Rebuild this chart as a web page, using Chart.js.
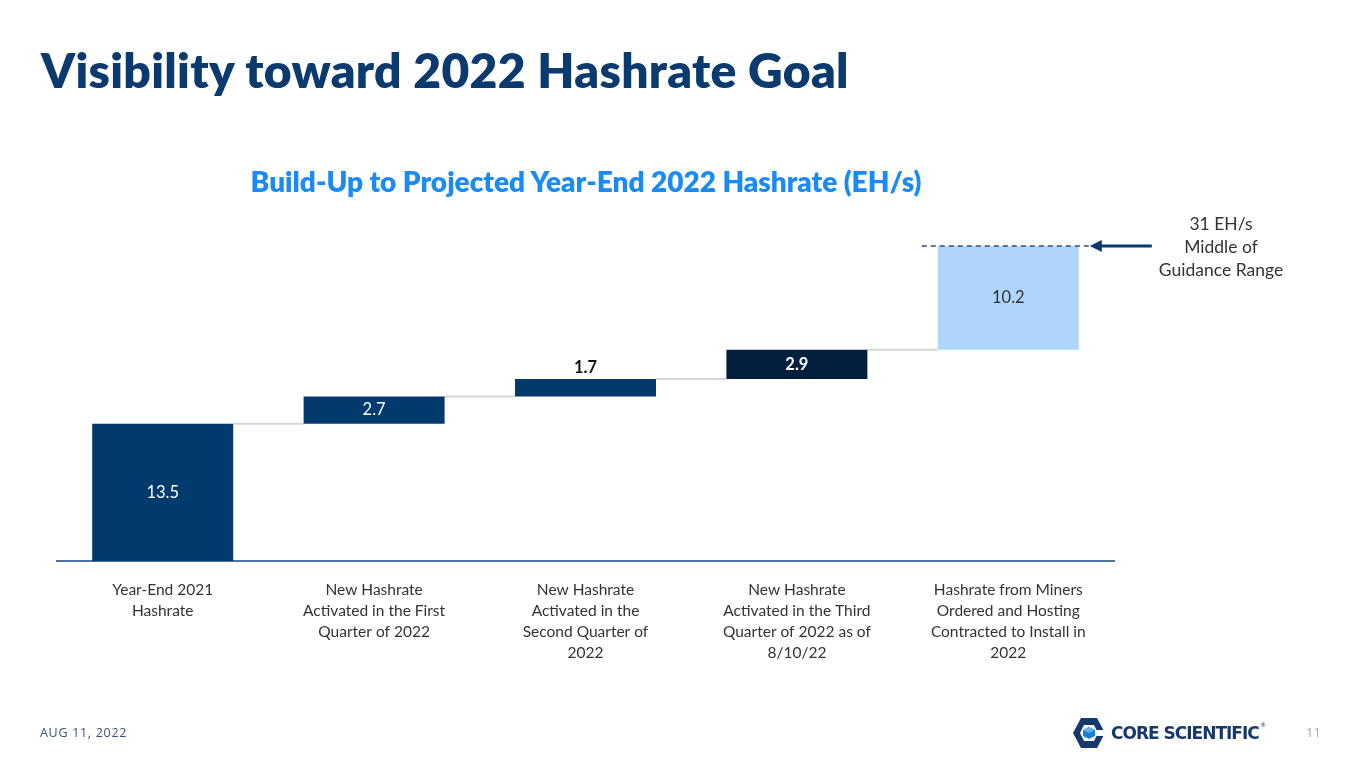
<!DOCTYPE html>
<html>
<head>
<meta charset="utf-8">
<script src="https://cdn.jsdelivr.net/npm/chart.js@4.4.0/dist/chart.umd.min.js"></script>
<style>
  html, body { margin: 0; padding: 0; background: #fff; }
  body { width: 1365px; height: 768px; position: relative; overflow: hidden; font-family: Lato, "Open Sans", sans-serif; }
  #wrap { position: absolute; left: 0; top: 0; width: 1365px; height: 768px; }
  .title { position: absolute; left: 41px; top: 46px; font: 800 48px/1 Lato, sans-serif; color: #0a3a6e; letter-spacing: 0.3px; white-space: nowrap; }
  .subtitle { position: absolute; left: 0; width: 1172px; top: 167px; text-align: center; font: 800 28px/1 Lato, sans-serif; color: #1a8af5; white-space: nowrap; }
  .note { position: absolute; left: 1121px; width: 200px; top: 212px; text-align: center; font: 400 17.5px/23px Lato, sans-serif; color: #333; }
  .date { position: absolute; left: 40px; top: 727px; font: 400 12.5px/1 "Open Sans", sans-serif; color: #3a5275; letter-spacing: 0.7px; }
  .page { position: absolute; left: 1306px; top: 726px; font: 400 13px/1 "Open Sans", sans-serif; color: #a8a8a8; }
  .logo { position: absolute; left: 1072px; top: 716px; height: 34px; display: flex; align-items: center; }
  .logo span { font: 900 17px/1 "DejaVu Sans", sans-serif; color: #16386b; margin-left: 5px; letter-spacing: -1px; }
  .logo sup { font-size: 6px; color: #16386b; position: relative; top: -9px; margin-left: 2px; }
</style>
</head>
<body>
<div id="wrap"><canvas id="hashChart" width="1365" height="768"></canvas></div>
<div class="title">Visibility toward 2022 Hashrate Goal</div>
<div class="subtitle">Build-Up to Projected Year-End 2022 Hashrate (EH/s)</div>
<div class="note">31 EH/s<br>Middle of<br>Guidance Range</div>
<div class="date">AUG 11, 2022</div>
<div class="page">11</div>
<div class="logo">
  <svg width="34" height="34" viewBox="0 0 34 34">
    <polygon points="9,2 25,2 33,17 25,32 9,32 1,17" fill="#16386b"/>
    <polygon points="12,9 22,9 26,17 22,25 12,25 8,17" fill="#fff"/>
    <polygon points="17,11 23,14 23,20 17,23 11,20 11,14" fill="#1e7fd0"/>
    <polygon points="17,11 23,14 17,17 11,14" fill="#5fb4f0"/>
    <rect x="24" y="14" width="10" height="6" fill="#fff"/>
  </svg>
  <span>CORE SCIENTIFIC</span><sup>&reg;</sup>
</div>

<script>
// категории по оси X
const categories = [
    ['Year-End 2021', 'Hashrate'],
    ['New Hashrate', 'Activated in the First', 'Quarter of 2022'],
    ['New Hashrate', 'Activated in the', 'Second Quarter of', '2022'],
    ['New Hashrate', 'Activated in the Third', 'Quarter of 2022 as of', '8/10/22'],
    ['Hashrate from Miners', 'Ordered and Hosting', 'Contracted to Install in', '2022']
];

// прирост хешрейта, EH/s
const increments = [13.5, 2.7, 1.7, 2.9, 10.2];
const valueLabels = ['13.5', '2.7', '1.7', '2.9', '10.2'];
const guidanceMid = 31;

const barColors = ['#023a6e', '#023a6e', '#023a6e', '#031f3d', '#aed6fc'];
const labelColors = ['#ffffff', '#ffffff', '#111111', '#ffffff', '#333333'];
const labelBold = [false, false, true, true, false];

// каскад: начало и конец каждого столбца
const floating = [];
let running = 0;
increments.forEach(v => {
    floating.push([running, +(running + v).toFixed(2)]);
    running += v;
});

// соединительные линии, подписи, пунктир и стрелка
const waterfallExtras = {
    id: 'waterfallExtras',
    beforeDatasetsDraw(chart) {
        const ctx = chart.ctx;
        const bars = chart.getDatasetMeta(0).data;
        const y = chart.scales.y;
        ctx.save();
        ctx.strokeStyle = '#d6d6d6';
        ctx.lineWidth = 2;
        for (let i = 0; i < bars.length - 1; i++) {
            const yy = y.getPixelForValue(floating[i][1]);
            ctx.beginPath();
            ctx.moveTo(bars[i].x + bars[i].width / 2, yy);
            ctx.lineTo(bars[i + 1].x - bars[i + 1].width / 2, yy);
            ctx.stroke();
        }
        ctx.restore();
    },
    afterDatasetsDraw(chart) {
        const ctx = chart.ctx;
        const bars = chart.getDatasetMeta(0).data;
        ctx.save();
        ctx.textAlign = 'center';
        ctx.textBaseline = 'middle';
        bars.forEach((bar, i) => {
            ctx.font = (labelBold[i] ? 'bold ' : '') + '16.5px Lato, sans-serif';
            ctx.fillStyle = labelColors[i];
            let ly = (bar.y + bar.base) / 2;
            if (i === 2) ly = bar.y - 11;
            ctx.fillText(valueLabels[i], bar.x, ly);
        });

        // пунктир на уровне середины диапазона
        const last = bars[bars.length - 1];
        const gy = chart.scales.y.getPixelForValue(guidanceMid);
        const x0 = last.x - last.width / 2 - 16;
        const x1 = last.x + last.width / 2 + 11;
        ctx.strokeStyle = '#2c4f7c';
        ctx.lineWidth = 1.3;
        ctx.setLineDash([5, 4]);
        ctx.beginPath();
        ctx.moveTo(x0, gy);
        ctx.lineTo(x1, gy);
        ctx.stroke();
        ctx.setLineDash([]);

        // стрелка
        ctx.strokeStyle = '#0b3a6e';
        ctx.fillStyle = '#0b3a6e';
        ctx.lineWidth = 3;
        ctx.beginPath();
        ctx.moveTo(x1 + 62, gy);
        ctx.lineTo(x1 + 10, gy);
        ctx.stroke();
        ctx.beginPath();
        ctx.moveTo(x1, gy);
        ctx.lineTo(x1 + 12, gy - 6);
        ctx.lineTo(x1 + 12, gy + 6);
        ctx.closePath();
        ctx.fill();
        ctx.restore();
    }
};

window.onload = function() {
    const ctx = document.getElementById('hashChart').getContext('2d');
    new Chart(ctx, {
        type: 'bar',
        data: {
            labels: categories,
            datasets: [{
                data: floating,
                backgroundColor: barColors,
                borderWidth: 0,
                borderSkipped: false,
                categoryPercentage: 1.0,
                barPercentage: 0.667
            }]
        },
        options: {
            responsive: false,
            animation: false,
            devicePixelRatio: 1,
            layout: { padding: { left: 57, right: 251, top: 215.5, bottom: 0 } },
            plugins: {
                legend: { display: false },
                tooltip: { enabled: false }
            },
            scales: {
                x: {
                    grid: { display: false, drawTicks: false },
                    border: { display: true, color: '#4d72a0', width: 2 },
                    ticks: {
                        color: '#333333',
                        font: { family: 'Lato', size: 15.5, lineHeight: 1.36 },
                        padding: 18,
                        maxRotation: 0,
                        autoSkip: false
                    },
                    afterFit(scale) { scale.height = 207; }
                },
                y: {
                    display: false,
                    min: 0,
                    max: 34
                }
            }
        },
        plugins: [waterfallExtras]
    });
};
</script>
</body>
</html>
